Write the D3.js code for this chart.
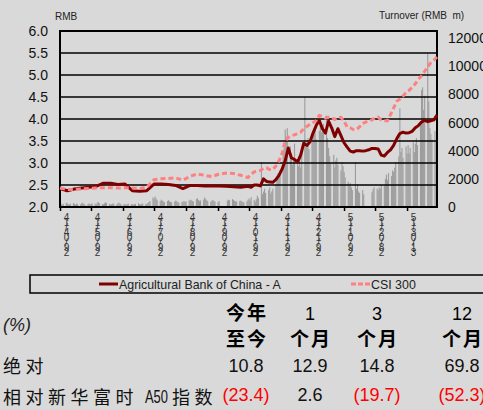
<!DOCTYPE html>
<html>
	<head>
		<meta charset="UTF-8">
		<title>Agricultural Bank of China - A</title>
		<script src="https://cdn.jsdelivr.net/npm/d3@7"></script>
		<style>
			body { margin: 0; background: #d9d9d9; }
			svg { display: block; font-family: "Liberation Sans", Arial, sans-serif; }
		</style>
	</head>
	<body>
		<svg width="483" height="410"></svg>
		<script>
			// price lines: weekly until late Oct 2014, then every 3 days
			let lineDates = [
				"2014-04-29", "2014-05-06", "2014-05-13", "2014-05-20", "2014-05-27", "2014-06-03", "2014-06-10",
				"2014-06-17", "2014-06-24", "2014-07-01", "2014-07-08", "2014-07-15", "2014-07-22", "2014-07-29",
				"2014-08-05", "2014-08-12", "2014-08-19", "2014-08-26", "2014-09-02", "2014-09-09", "2014-09-16",
				"2014-09-23", "2014-09-30", "2014-10-07", "2014-10-14", "2014-10-21", "2014-10-28",
				"2014-10-31", "2014-11-03", "2014-11-06", "2014-11-09", "2014-11-12", "2014-11-15", "2014-11-18",
				"2014-11-21", "2014-11-24", "2014-11-27", "2014-11-30", "2014-12-03", "2014-12-06", "2014-12-09",
				"2014-12-12", "2014-12-15", "2014-12-18", "2014-12-21", "2014-12-24", "2014-12-27", "2014-12-30",
				"2015-01-02", "2015-01-05", "2015-01-08", "2015-01-11", "2015-01-14", "2015-01-17", "2015-01-20",
				"2015-01-23", "2015-01-26", "2015-01-29", "2015-02-01", "2015-02-04", "2015-02-07", "2015-02-10",
				"2015-02-13", "2015-02-16", "2015-02-19", "2015-02-22", "2015-02-25", "2015-02-28", "2015-03-03",
				"2015-03-06", "2015-03-09", "2015-03-12", "2015-03-15", "2015-03-18", "2015-03-21", "2015-03-24",
				"2015-03-27", "2015-03-30", "2015-04-02", "2015-04-05", "2015-04-08", "2015-04-11", "2015-04-14",
				"2015-04-17", "2015-04-20", "2015-04-23", "2015-04-26", "2015-04-29"
			];
			let abcPrice = [
				2.42, 2.37, 2.41, 2.43, 2.45, 2.47, 2.54, 2.54, 2.51, 2.52, 2.37, 2.36, 2.37, 2.52,
				2.52, 2.51, 2.49, 2.42, 2.49, 2.49, 2.48, 2.48, 2.48, 2.47, 2.46, 2.45, 2.47,
				2.45, 2.50, 2.50, 2.48, 2.64, 2.58, 2.57, 2.56, 2.62, 2.72, 2.86, 3.05, 3.34, 3.12,
				3.08, 3.02, 3.18, 3.45, 3.40, 3.48, 3.68, 3.85, 3.97, 3.78, 3.68, 3.95, 3.80,
				3.60, 3.78, 3.62, 3.46, 3.36, 3.27, 3.25, 3.28, 3.28, 3.27, 3.28, 3.30, 3.33,
				3.33, 3.32, 3.18, 3.16, 3.24, 3.30, 3.40, 3.55, 3.67, 3.70, 3.68, 3.69, 3.72,
				3.80, 3.85, 3.93, 3.97, 3.94, 3.96, 3.98, 4.09
			];
			let csiPrice = [
				2.43, 2.40, 2.40, 2.41, 2.42, 2.43, 2.44, 2.44, 2.43, 2.44, 2.43, 2.42, 2.45, 2.62,
				2.64, 2.65, 2.66, 2.61, 2.70, 2.75, 2.72, 2.69, 2.75, 2.77, 2.76, 2.72, 2.67,
				2.74, 2.80, 2.81, 2.83, 2.88, 2.89, 2.85, 2.85, 2.93, 3.05, 3.22, 3.50, 3.58, 3.62,
				3.64, 3.67, 3.70, 3.78, 3.83, 3.88, 3.92, 3.96, 4.08, 4.06, 4.02, 4.04, 4.03,
				3.99, 4.03, 4.04, 3.95, 3.82, 3.80, 3.76, 3.76, 3.82, 3.90, 3.93, 3.96, 3.98,
				4.02, 4.04, 3.98, 3.96, 3.96, 4.10, 4.25, 4.40, 4.45, 4.52, 4.60, 4.65, 4.72,
				4.80, 4.90, 4.98, 5.08, 5.18, 5.28, 5.34, 5.41
			];

			// daily turnover (RMB m), one value per weekday from turnoverStart
			let turnoverStart = "2014-04-29";
			let turnover = [
				320, 250, 180, 210, 300, 260, 190, 170, 230, 280, 210, 160, 240, 200, 180, 260, 300, 220, 170, 190, 250, 210,
				200, 260, 230, 180, 300, 350, 280, 210, 190, 260, 330, 280, 220, 170, 200, 250, 230, 190, 260, 310, 240, 200,
				220, 180, 160, 200, 240, 210, 180, 170, 190, 230, 260, 200, 180, 210, 250, 230, 200, 280, 350, 420, 680, 560,
				750, 600, 480, 420, 520, 460, 390, 350, 420, 480, 400, 360, 330, 380, 450, 410, 350, 300, 340, 380, 420, 360,
				400, 460, 520, 480, 430, 400, 560, 620, 500, 440, 470, 520, 680, 560, 480, 420, 380, 450, 500, 430, 380, 350,
				420, 0, 0, 0, 0, 0, 450, 520, 480, 560, 500, 430, 400, 380, 420, 460, 390, 350, 330, 400, 520, 600,
				450, 700, 500, 380, 550, 800, 650, 3200, 900, 1100, 1300, 1000, 1200, 1400, 950, 1100, 1300, 1500, 2000, 2400, 2200, 2600,
				3900, 4200, 5500, 5000, 5600, 4300, 3800, 3000, 3400, 4500, 3200, 2900, 3500, 2800, 4200, 7800, 4700, 4400, 4900, 4100, 4600, 5200,
				5200, 5600, 4800, 5400, 6000, 5300, 5800, 5900, 6500, 4900, 4200, 3600, 3100, 3700, 2800, 3300, 3500, 3000, 2600, 3200, 2900, 2500,
				2100, 1800, 1500, 1700, 1400, 1200, 3200, 1300, 1600, 1100, 1000, 1200, 900, 0, 0, 0, 0, 0, 1050, 1250, 1400, 1300,
				1200, 1400, 1300, 1600, 1500, 2000, 2300, 1900, 2400, 2200, 2600, 2500, 2800, 3200, 3600, 7000, 3900, 4200, 3500, 4300, 3800, 4400,
				3800, 4200, 4600, 3900, 4500, 4900, 4400, 5800, 8300, 8500, 6900, 7900, 10900, 7500, 5600, 5200, 4800, 5400, 4600, 5100
			];

			let tickDates = [
				"2014-04-29", "2014-05-29", "2014-06-29", "2014-07-29", "2014-08-29", "2014-09-29",
				"2014-10-29", "2014-11-29", "2014-12-29", "2015-01-29", "2015-02-28", "2015-03-31"
			];
			let priceTicks = [2.0, 2.5, 3.0, 3.5, 4.0, 4.5, 5.0, 5.5, 6.0];
			let turnoverTicks = [0, 2000, 4000, 6000, 8000, 10000, 12000];
			let seriesNames = ["Agricultural Bank of China - A", "CSI 300"];

			let tableHead = [["今年", "至今"], ["1", "个月"], ["3", "个月"], ["12", "个月"]];
			let absoluteRow = [10.8, 12.9, 14.8, 69.8];
			let relativeRow = [-23.4, 2.6, -19.7, -52.3];
			let rowLabels = ["绝对", "相对新华富时 A50 指数"];

			let parse = d3.timeParse("%Y-%m-%d");
			let svg = d3.select("svg");
			let plotLeft = 60, plotRight = 437, plotTop = 31, plotBottom = 207;

			let x = d3.scaleTime()
				.domain([parse("2014-04-29"), parse("2015-04-29")])
				.range([plotLeft, plotRight]);
			let yPrice = d3.scaleLinear().domain([2, 6]).range([plotBottom, plotTop]);
			let yTurn = d3.scaleLinear().domain([0, 12500]).range([plotBottom, plotTop]);

			// weekday dates for the turnover bars
			let barDates = [];
			let day = parse(turnoverStart);
			while (barDates.length < turnover.length) {
				if (day.getDay() !== 0 && day.getDay() !== 6) barDates.push(day);
				day = d3.timeDay.offset(day, 1);
			}

			svg.append("g")
				.selectAll("rect")
				.data(turnover)
				.enter()
				.append("rect")
				.attr("x", (d, i) => x(barDates[i]) - 0.5)
				.attr("width", 1.1)
				.attr("y", d => yTurn(d))
				.attr("height", d => plotBottom - yTurn(d))
				.attr("fill", "#9c9c9c");

			// gridlines
			svg.append("g")
				.selectAll("line")
				.data(priceTicks)
				.enter()
				.append("line")
				.attr("x1", plotLeft)
				.attr("x2", plotRight)
				.attr("y1", d => yPrice(d))
				.attr("y2", d => yPrice(d))
				.attr("stroke", "#000")
				.attr("stroke-width", d => (d === 6 || d === 2) ? 2 : 1.5);

			svg.append("line")
				.attr("x1", plotLeft).attr("x2", plotLeft)
				.attr("y1", plotTop - 1).attr("y2", plotBottom + 1)
				.attr("stroke", "#000").attr("stroke-width", 2);
			svg.append("line")
				.attr("x1", plotRight).attr("x2", plotRight)
				.attr("y1", plotTop - 1).attr("y2", plotBottom + 1)
				.attr("stroke", "#000").attr("stroke-width", 2);

			let linePts = lineDates.map(parse);
			let line = (vals) => d3.line()
				.x((d, i) => x(linePts[i]))
				.y(d => yPrice(d))(vals);

			svg.append("path")
				.attr("d", line(abcPrice))
				.attr("fill", "none")
				.attr("stroke", "#800000")
				.attr("stroke-width", 3)
				.attr("stroke-linejoin", "round");

			svg.append("path")
				.attr("d", line(csiPrice))
				.attr("fill", "none")
				.attr("stroke", "#ff8080")
				.attr("stroke-width", 3)
				.attr("stroke-dasharray", "5,3");

			// axes
			let axisLeft = svg.append("g")
				.attr("transform", `translate(${plotLeft},0)`)
				.call(d3.axisLeft(yPrice).tickValues(priceTicks).tickFormat(d3.format(".1f")).tickSize(0).tickPadding(12));
			axisLeft.select(".domain").remove();
			axisLeft.selectAll("text").attr("font-size", 14).attr("fill", "#111").attr("font-family", "Liberation Sans, Arial, sans-serif");

			let axisRight = svg.append("g")
				.attr("transform", `translate(${plotRight},0)`)
				.call(d3.axisRight(yTurn).tickValues(turnoverTicks).tickFormat(d3.format("d")).tickSize(0).tickPadding(11));
			axisRight.select(".domain").remove();
			axisRight.selectAll("text").attr("font-size", 14).attr("fill", "#111").attr("font-family", "Liberation Sans, Arial, sans-serif");

			let axisBottom = svg.append("g")
				.attr("transform", `translate(0,${plotBottom})`)
				.call(d3.axisBottom(x).tickValues(tickDates.map(parse)).tickSize(4).tickFormat(""));
			axisBottom.select(".domain")
				.attr("d", `M${plotLeft - 1},0H${plotRight + 1}`)
				.attr("stroke", "#000")
				.attr("stroke-width", 2);
			axisBottom.selectAll(".tick line").attr("stroke", "#000").attr("stroke-width", 1.5);

			// date labels drawn as stacked glyphs, read bottom to top
			let fmt = d3.timeFormat("%d/%m/%y");
			let tickLabel = svg.append("g")
				.selectAll("text")
				.data(tickDates.map(parse))
				.enter()
				.append("text")
				.attr("text-anchor", "middle")
				.attr("font-size", 10)
				.attr("fill", "#333");
			tickLabel.selectAll("tspan")
				.data(d => fmt(d).split("").reverse().map(c => ({ c: c, d: d })))
				.enter()
				.append("tspan")
				.attr("x", d => x(d.d) + 6.5)
				.attr("y", (d, i) => 221 + i * 5)
				.text(d => d.c);

			// axis titles
			svg.append("text")
				.attr("x", 55).attr("y", 20)
				.attr("font-size", 10).attr("fill", "#222")
				.text("RMB");
			svg.append("text")
				.attr("x", 379).attr("y", 19)
				.attr("font-size", 10).attr("fill", "#222")
				.attr("xml:space", "preserve")
				.text("Turnover (RMB  m)");

			// legend
			svg.append("rect")
				.attr("x", 30).attr("y", 275)
				.attr("width", 470).attr("height", 18)
				.attr("fill", "none")
				.attr("stroke", "#000")
				.attr("stroke-width", 1.5);
			let legendX = [99, 351];
			let legendStyle = [["#800000", null], ["#ff8080", "5,2"]];
			seriesNames.forEach((name, i) => {
				svg.append("line")
					.attr("x1", legendX[i]).attr("x2", legendX[i] + 19)
					.attr("y1", 284).attr("y2", 284)
					.attr("stroke", legendStyle[i][0])
					.attr("stroke-width", 3)
					.attr("stroke-dasharray", legendStyle[i][1]);
				svg.append("text")
					.attr("x", legendX[i] + 20).attr("y", 288.5)
					.attr("font-size", 12.4).attr("fill", "#222")
					.text(name);
			});

			// performance table
			let colX = [246, 310, 377, 462];
			let cjk = "'Noto Sans CJK SC', sans-serif";
			svg.append("text")
				.attr("x", 3).attr("y", 331)
				.attr("font-size", 18).attr("font-style", "italic").attr("fill", "#222")
				.text("(%)");

			tableHead.forEach((h, i) => {
				h.forEach((t, j) => {
					let isCjk = /[\u4e00-\u9fff]/.test(t);
					svg.append("text")
						.attr("x", colX[i] + (isCjk ? 1 : 0))
						.attr("y", j === 0 ? 320 : 346)
						.attr("text-anchor", "middle")
						.attr("font-size", isCjk ? 19 : 18)
						.attr("font-weight", isCjk ? 700 : 400)
						.attr("font-family", isCjk ? cjk : null)
						.attr("letter-spacing", isCjk ? 2 : 0)
						.attr("fill", "#000")
						.text(t);
				});
			});

			let fmtPct = v => v < 0 ? `(${d3.format(".1f")(-v)})` : d3.format(".1f")(v);
			[absoluteRow, relativeRow].forEach((row, r) => {
				svg.append("g")
					.selectAll("text")
					.data(row)
					.enter()
					.append("text")
					.attr("x", (d, i) => colX[i])
					.attr("y", r === 0 ? 372 : 401)
					.attr("text-anchor", "middle")
					.attr("font-size", 18)
					.attr("fill", d => d < 0 ? "#ff0000" : "#111")
					.text(fmtPct);
			});

			svg.append("text")
				.attr("x", 3).attr("y", 373)
				.attr("font-family", cjk).attr("font-size", 18)
				.attr("letter-spacing", 4.5).attr("fill", "#111")
				.text(rowLabels[0]);

			let parts = rowLabels[1].split(" ");
			let rel = svg.append("text")
				.attr("y", 404)
				.attr("font-family", cjk).attr("font-size", 18).attr("fill", "#111");
			rel.append("tspan").attr("x", 3).attr("letter-spacing", 4.5).text(parts[0]);
			rel.append("tspan")
				.attr("x", 145)
				.attr("y", 403)
				.attr("font-family", "'Liberation Sans', sans-serif")
				.attr("font-size", 17.5)
				.attr("textLength", 23)
				.attr("lengthAdjust", "spacingAndGlyphs")
				.text(parts[1]);
			rel.append("tspan").attr("x", 172).attr("y", 404).attr("letter-spacing", 4.5).text(parts[2]);
		</script>
	</body>
</html>
